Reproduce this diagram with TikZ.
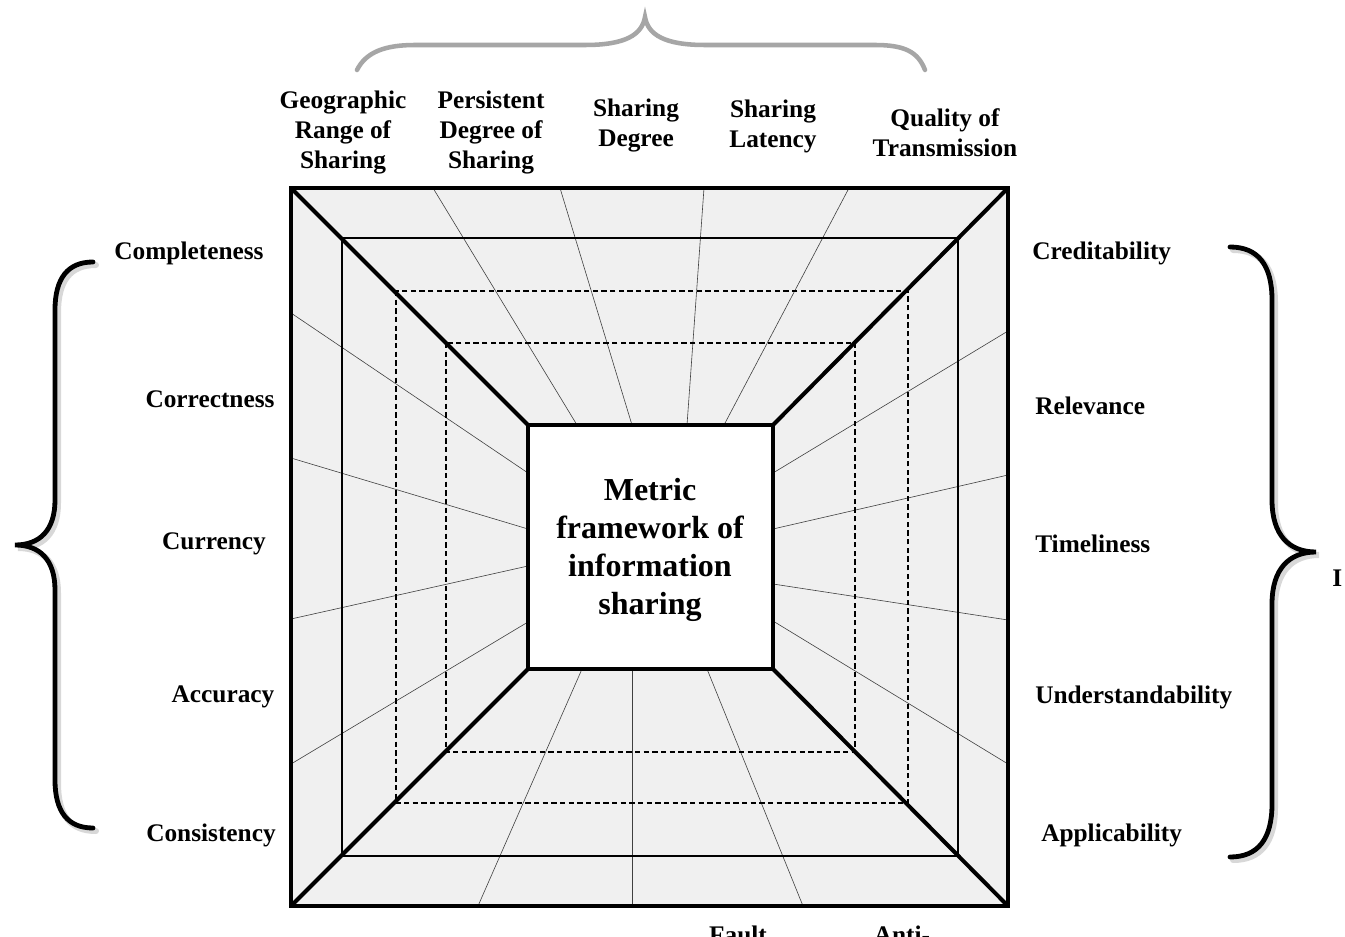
\documentclass[tikz,border=0pt]{standalone}
\usepackage{fontspec}
\setmainfont{Liberation Serif}
\begin{document}
\begin{tikzpicture}[x=0.75pt,y=-0.75pt,
  lab/.style={font=\fontsize{19}{22.5}\selectfont\bfseries, align=center, inner sep=0pt},
  biglab/.style={font=\fontsize{24}{28.5}\selectfont\bfseries, align=center, inner sep=0pt},
  thickline/.style={line width=3pt, black},
  midline/.style={line width=1.5pt, black},
  dashline/.style={line width=1.5pt, black, dash pattern=on 4pt off 2.5pt},
  ray/.style={line width=0.45pt, black!75},
  bracepath/.style={line width=3.6pt, black, line cap=round},
  braceshadow/.style={line width=4.5pt, black!25, line cap=round, opacity=0.6}
]
\useasboundingbox (0,0) rectangle (1345,937);
\fill[white] (0,0) rectangle (1345,937);

% coordinates of squares
\coordinate (o1) at (291,188);  \coordinate (o2) at (1008,906);
\coordinate (s1) at (342,238);  \coordinate (s2) at (958,856);
\coordinate (d1) at (396,291);  \coordinate (d2) at (908,803);
\coordinate (e1) at (446,343);  \coordinate (e2) at (855,752);
\coordinate (i1) at (528,425);  \coordinate (i2) at (773,669);

% ring fill
\fill[black!6] (o1) rectangle (o2);
\fill[white] (i1) rectangle (i2);

% radial lines top
\draw[ray] (577,425) -- (433,188);
\draw[ray] (632,425) -- (560,188);
\draw[ray] (687,425) -- (704,188);
\draw[ray] (724,425) -- (849,188);
% left
\draw[ray] (528,473) -- (291,313);
\draw[ray] (528,529) -- (291,458);
\draw[ray] (528,566) -- (291,619);
\draw[ray] (528,622) -- (291,764);
% right
\draw[ray] (773,473) -- (1008,331);
\draw[ray] (773,529) -- (1008,475);
\draw[ray] (773,584) -- (1008,620);
\draw[ray] (773,621) -- (1008,764);
% bottom
\draw[ray] (582,669) -- (478,906);
\draw[ray] (632,669) -- (632,906);
\draw[ray] (707,669) -- (803,906);

% squares
\draw[midline] (s1) rectangle (s2);
\draw[dashline] (d1) rectangle (d2);
\draw[dashline] (e1) rectangle (e2);

% diagonals
\draw[thickline] (291,188) -- (528,425);
\draw[thickline] (1008,188) -- (773,425);
\draw[thickline] (291,906) -- (528,669);
\draw[thickline] (1008,906) -- (773,669);

\draw[thickline] (o1) rectangle (o2);
\draw[thickline] (i1) rectangle (i2);

\node[biglab] (center) at (650,550) {Metric\\framework of\\information\\sharing};

% top labels
\node[lab] (geo) at (343,133) {Geographic\\Range of\\Sharing};
\node[lab] (per) at (491,133) {Persistent\\Degree of\\Sharing};
\node[lab] (sdeg) at (636,126) {Sharing\\Degree};
\node[lab] (slat) at (773,126) {Sharing\\Latency};
\node[lab] (qot) at (945,133) {Quality of\\Transmission};

% left labels
\node[lab] (comp) at (189,253) {Completeness};
\node[lab] (corr) at (210,399) {Correctness};
\node[lab] (curr) at (214,544) {Currency};
\node[lab] (accu) at (223,697) {Accuracy};
\node[lab] (cons) at (211,835) {Consistency};

% right labels
\node[lab, anchor=west] (cred) at (1032,253) {Creditability};
\node[lab, anchor=west] (rele) at (1035,406) {Relevance};
\node[lab, anchor=west] (time) at (1035,544) {Timeliness};
\node[lab, anchor=west] (unde) at (1035,697) {Understandability};
\node[lab, anchor=west] (appl) at (1041,835) {Applicability};

% bottom labels (cut off at the edge, as in the reference)
\node[lab, anchor=base] (fault) at (738,943) {Fault};
\node[lab, anchor=base] (anti) at (902,943) {Anti-};

% right edge label (cut off)
\node[lab, anchor=base west] (rlab) at (1332,586) {I};

% top brace (gray)
\draw[line width=3.4pt, black!35, line cap=round]
  (357,70) .. controls (366,52) and (385,45) .. (415,45) -- (585,45)
  .. controls (625,45) and (642,35) .. (645,17)
  .. controls (648,35) and (665,45) .. (705,45) -- (875,45)
  .. controls (905,45) and (918,52) .. (925,70);

% left brace
\draw[braceshadow] (96,265) .. controls (70,265) and (58,281) .. (58,313) -- (58,503)
  .. controls (58,533) and (43,548) .. (18,548)
  .. controls (43,548) and (58,563) .. (58,593) -- (58,783)
  .. controls (58,815) and (70,831) .. (96,831);
\draw[bracepath] (93,262) .. controls (68,262) and (55,278) .. (55,310) -- (55,500)
  .. controls (55,530) and (40,545) .. (15,545)
  .. controls (40,545) and (55,560) .. (55,590) -- (55,780)
  .. controls (55,812) and (68,828) .. (93,828);

% right brace
\draw[braceshadow] (1233,250) .. controls (1261,250) and (1275,268) .. (1275,303) -- (1275,503)
  .. controls (1275,538) and (1292,555) .. (1319,555)
  .. controls (1292,555) and (1275,572) .. (1275,607) -- (1275,807)
  .. controls (1275,842) and (1261,860) .. (1233,860);
\draw[bracepath] (1230,247) .. controls (1258,247) and (1272,265) .. (1272,300) -- (1272,500)
  .. controls (1272,535) and (1289,552) .. (1316,552)
  .. controls (1289,552) and (1272,569) .. (1272,604) -- (1272,804)
  .. controls (1272,839) and (1258,857) .. (1230,857);
\end{tikzpicture}
\end{document}
